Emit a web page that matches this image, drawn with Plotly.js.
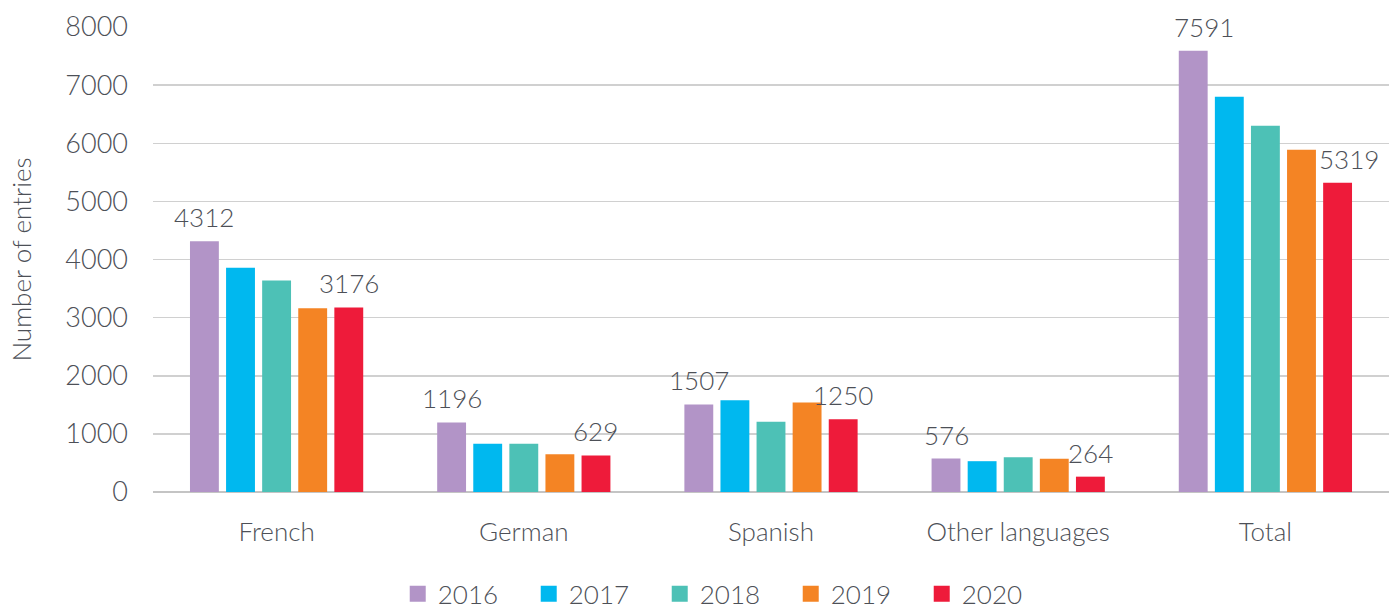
<!DOCTYPE html>
<html><head><meta charset="utf-8">
<script src="https://cdn.plot.ly/plotly-3.0.1.min.js"></script>
<style>html,body{margin:0;padding:0;background:#fff}#chart{width:1397px;height:609px}</style>
</head><body><div id="chart"></div>
<script>
const categories = ["French", "German", "Spanish", "Other languages", "Total"];
const years = ["2016", "2017", "2018", "2019", "2020"];
const v2016 = [4312, 1196, 1507, 576, 7591];
const v2017 = [3860, 830, 1580, 530, 6800];
const v2018 = [3640, 830, 1210, 600, 6300];
const v2019 = [3160, 650, 1540, 570, 5890];
const v2020 = [3176, 629, 1250, 264, 5319];
const colors = ["#b294c7", "#00b8ef", "#4dc1b6", "#f48424", "#ee1b3a"];
const labeled = [true, false, false, false, true];
const series = [v2016, v2017, v2018, v2019, v2020];

const W = 1397, H = 609;
const M = {l: 153, r: 8, t: 27, b: 117};
const BARGAP = 0.27;
const TXT = "#4d5057";
const FONT = "Lato, sans-serif";

const traces = series.map((vals, i) => ({
  type: "bar",
  name: years[i],
  x: categories,
  y: vals,
  marker: {color: colors[i]},
  showlegend: false,
  hoverinfo: "x+y+name"
}));
// legend entries (square swatches)
years.forEach((yr, i) => traces.push({
  type: "scatter", mode: "markers", name: yr,
  x: [null], y: [null],
  marker: {symbol: "square", size: 20, color: colors[i]},
  showlegend: true
}));

// data labels as annotations from the arrays
const catW = (W - M.l - M.r) / categories.length;
const slot = catW * (1 - BARGAP) / series.length;
const annotations = [];
series.forEach((vals, i) => {
  if (!labeled[i]) return;
  const off = (i - (series.length - 1) / 2) * slot;
  vals.forEach((v, j) => annotations.push({
    xref: "x", yref: "y", x: categories[j], y: v,
    xshift: off + (j === categories.length - 1 ? 11 : 0), yshift: 6, yanchor: "bottom", showarrow: false,
    text: String(v), font: {family: FONT, size: 26, color: TXT, weight: 300}
  }));
});

const layout = {
  width: W, height: H,
  margin: M,
  paper_bgcolor: "#fff", plot_bgcolor: "#fff",
  font: {family: FONT, color: TXT, size: 26, weight: 300},
  barmode: "group",
  bargap: BARGAP,
  bargroupgap: 0.2,
  showlegend: true,
  legend: {orientation: "h", xref: "paper", x: 0.198, xanchor: "left",
           yref: "container", y: 0.025, yanchor: "middle",
           entrywidth: 86, entrywidthmode: "pixels",
           font: {size: 26, color: TXT, weight: 300}, itemwidth: 30, traceorder: "normal"},
  annotations: annotations,
  xaxis: {tickfont: {size: 26, color: TXT, weight: 300}, showline: false, ticks: "", showgrid: false,
          ticklabelstandoff: 22},
  yaxis: {range: [0, 8000], dtick: 1000, tick0: 0, gridcolor: "#d0d0d0", gridwidth: 1.5,
          zeroline: true, zerolinecolor: "#c4c4c4", zerolinewidth: 2,
          tickfont: {size: 27, color: TXT, weight: 300}, ticklabelstandoff: 24,
          title: {text: "Number of entries", font: {size: 26, color: TXT, weight: 300}, standoff: 26}}
};
Plotly.newPlot("chart", traces, layout, {displayModeBar: false, staticPlot: true});
</script></body></html>
